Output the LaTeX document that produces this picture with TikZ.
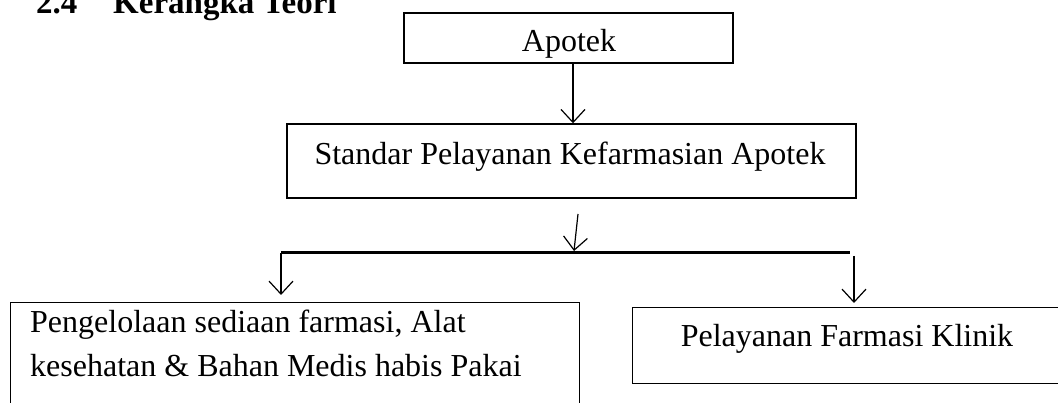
\documentclass[tikz,border=0pt]{standalone}
\usepackage{fontspec}
\setmainfont{Liberation Serif}
\usetikzlibrary{arrows.meta}
\begin{document}
\begin{tikzpicture}[x=1pt,y=1pt,
  box/.style={draw, line width=1.4pt, inner sep=0pt},
  lbl/.style={font=\fontsize{32}{44}\selectfont, inner sep=0pt},
  ttl/.style={font=\fontsize{33}{38}\selectfont\bfseries, anchor=base west, inner sep=0pt},
  conn/.style={line width=1.2pt, -{Straight Barb[length=13pt,width=24pt,line width=1.2pt]}},
  bar/.style={line width=3pt}]
\useasboundingbox (0,0) rectangle (1058,-403);
\clip (0,0) rectangle (1058,-403);
% title
\node[ttl] (t1) at (36,-14) {2.4};
\node[ttl] (t2) at (113,-14) {Kerangka Teori};
% boxes
\node[box, minimum width=329pt, minimum height=50pt] (apotek) at (568.5,-38) {};
\node[lbl, anchor=base] (apotekt) at (569,-52) {Apotek};
\node[box, minimum width=569pt, minimum height=74pt] (standar) at (571.5,-161) {};
\node[lbl, anchor=base] (standart) at (570,-165) {Standar Pelayanan Kefarmasian Apotek};
\node[box, minimum width=569pt, minimum height=130pt, anchor=north west] (left) at (10,-302) {};
\node[lbl, anchor=base west, align=left] (leftt) at (30,-377) {Pengelolaan sediaan farmasi, Alat\\kesehatan \& Bahan Medis habis Pakai};
\node[box, minimum width=440pt, minimum height=76pt, anchor=north west] (right) at (632,-307) {};
\node[lbl, anchor=base] (rightt) at (847,-347) {Pelayanan Farmasi Klinik};
% connectors
\coordinate (a2s) at (578,-214);
\coordinate (a2e) at (574,-251);
\coordinate (barL) at (281,-253);
\coordinate (barR) at (850,-253);
\coordinate (lend) at (281,-295);
\coordinate (rs) at (854,-256);
\coordinate (rend) at (854,-303);
\draw[conn] (apotek.south -| 573,0) -- (standar.north -| 573,0);
\draw[conn] (a2s) -- (a2e);
\draw[bar] (barL) -- (barR);
\draw[conn] (barL) -- (lend);
\draw[conn] (rs) -- (rend);
\end{tikzpicture}
\end{document}
